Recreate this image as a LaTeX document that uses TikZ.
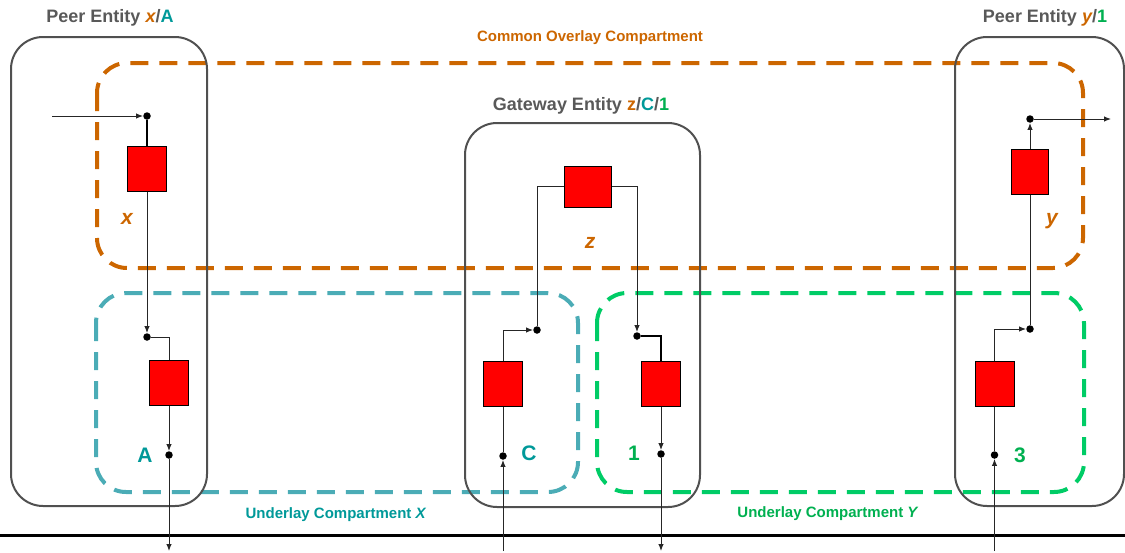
\documentclass[tikz,border=0pt]{standalone}
\usepackage{fontspec}
\setmainfont{Liberation Sans}
\usetikzlibrary{arrows.meta}
\definecolor{orng}{HTML}{CC6600}
\definecolor{tealtxt}{HTML}{009999}
\definecolor{cyandash}{HTML}{4BACB6}
\definecolor{grntxt}{HTML}{00B050}
\definecolor{grndash}{HTML}{00CC66}
\definecolor{boxgray}{HTML}{505050}
\definecolor{txtgray}{HTML}{595959}
\begin{document}
\begin{tikzpicture}[x=1pt,y=-1pt,
  entity/.style={draw=boxgray,line width=2pt,rounded corners=32pt},
  comp/.style={line width=4pt,dash pattern=on 18pt off 11pt,rounded corners=30pt},
  fn/.style={draw=black,fill=red,line width=1pt,minimum width=39pt,minimum height=45pt,inner sep=0pt},
  pt/.style={circle,fill=black,inner sep=0pt,minimum size=7.5pt},
  conn/.style={draw=black!85,line width=1pt,-{Latex[length=7pt,width=5.5pt]}},
  wire/.style={draw=black!85,line width=1pt},
  bold wire/.style={draw=black,line width=2pt},
  title/.style={font=\fontsize{18}{20}\selectfont\bfseries,text=txtgray,inner sep=0pt},
  complabel/.style={font=\fontsize{15}{18}\selectfont\bfseries,inner sep=0pt},
  letter/.style={font=\fontsize{21}{24}\selectfont\bfseries,inner sep=0pt},
  iletter/.style={font=\fontsize{21}{24}\selectfont\bfseries\itshape,inner sep=0pt}
]
\useasboundingbox (0,0) rectangle (1125,552);

% compartments
\draw[comp,draw=orng] (97,63) rectangle (1083,268);
\draw[comp,draw=cyandash] (96,293) rectangle (578,492);
\draw[comp,draw=grndash] (597,293) rectangle (1084,492);

% entities
\draw[entity] (11,37) rectangle (207,506);
\draw[entity] (465,123) rectangle (700,507);
\draw[entity] (955,37) rectangle (1124,506);

% bottom rule
\draw[line width=3pt] (0,535) -- (1125,535);

% titles
\node[title] (t1) at (110,18) {Peer Entity \textcolor{orng}{\itshape x}/\textcolor{tealtxt}{A}};
\node[title] (t2) at (581,106) {Gateway Entity \textcolor{orng}{z}/\textcolor{tealtxt}{C}/\textcolor{grntxt}{1}};
\node[title] (t3) at (1045,18) {Peer Entity \textcolor{orng}{\itshape y}/\textcolor{grntxt}{1}};
\node[complabel,text=orng] (lc) at (590,38) {Common Overlay Compartment};
\node[complabel,text=tealtxt] (lx) at (336,515) {Underlay Compartment \textit{X}};
\node[complabel,text=grntxt] (ly) at (828,514) {Underlay Compartment \textit{Y}};

% letters
\node[iletter,text=orng] (lx1) at (127,219) {x};
\node[letter,text=tealtxt] (la) at (145,455) {A};
\node[letter,text=tealtxt] (lcc) at (529,453) {C};
\node[letter,text=grntxt] (l1) at (634,453) {1};
\node[letter,text=grntxt] (l3) at (1020,455) {3};
\node[iletter,text=orng] (ly1) at (1052,221) {y};
\node[iletter,text=orng] (lz) at (590,243) {z};

% function boxes
\node[fn] (fx) at (147,168.5) {};
\node[fn] (fa) at (169,383) {};
\node[fn,minimum width=47pt,minimum height=41pt] (fz) at (587.5,186.5) {};
\node[fn] (fc) at (503,383.5) {};
\node[fn] (f1) at (661,383.5) {};
\node[fn,minimum width=37pt] (fy) at (1030,171.5) {};
\node[fn] (f3) at (994.5,383.5) {};

% dots
\node[pt] (d1) at (147,116) {};
\node[pt] (d2) at (147,337) {};
\node[pt] (da) at (169,455) {};
\node[pt] (dc) at (503,456) {};
\node[pt] (d3) at (537,330) {};
\node[pt] (d4) at (637,336) {};
\node[pt] (d5) at (661,454) {};
\node[pt] (d6) at (994.5,455) {};
\node[pt] (d7) at (1030,329) {};
\node[pt] (d8) at (1030,119) {};

% free ends
\coordinate (in1) at (52,116);
\coordinate (out1) at (169,551);
\coordinate (in2) at (503,551);
\coordinate (out2) at (661,551);
\coordinate (in3) at (994.5,551);
\coordinate (out3) at (1111,119);

% left peer
\draw[conn] (in1) -- (d1);
\draw[bold wire] (d1) -- (fx);
\draw[conn] (fx) -- (d2);
\draw[wire] (d2) -| (fa);
\draw[conn] (fa) -- (da);
\draw[conn] (da) -- (out1);

% gateway
\draw[conn] (in2) -- (dc);
\draw[wire] (dc) -- (fc);
\draw[conn] (fc.north) |- (d3);
\draw[wire] (d3) |- (fz.west);
\draw[conn] (fz.east) -| (d4);
\draw[bold wire] (d4) -| (f1);
\draw[conn] (f1) -- (d5);
\draw[conn] (d5) -- (out2);

% right peer
\draw[conn] (in3) -- (d6);
\draw[wire] (d6) -- (f3);
\draw[conn] (f3.north) |- (d7);
\draw[wire] (d7) -- (fy);
\draw[conn] (fy) -- (d8);
\draw[conn] (d8) -- (out3);
\end{tikzpicture}
\end{document}
